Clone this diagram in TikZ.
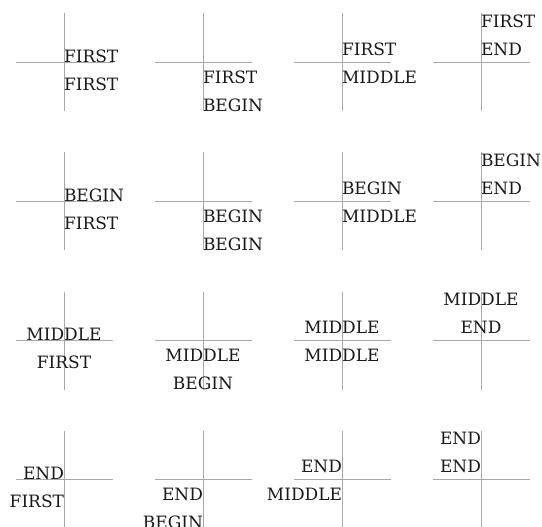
\documentclass[tikz,border=0pt]{standalone}
\usepackage{fontspec}
\setmainfont{DejaVu Serif}
\definecolor{AxisGray}{RGB}{168,168,168}
\definecolor{LabelInk}{RGB}{25,25,25}

\begin{document}
\begin{tikzpicture}[x=1pt, y=-1pt,
    axis/.style={AxisGray, line width=0.9pt},
    label/.style={inner sep=0pt, outer sep=0pt, text=LabelInk,
      font=\fontsize{17}{20}\selectfont}]
  \useasboundingbox (0,0) rectangle (542,527);
  % rows: horizontal alignment, columns: vertical alignment
  \foreach \row/\hname/\hanchor in {0/FIRST/base west, 1/BEGIN/base west,
      2/MIDDLE/base, 3/END/base east} {
    \foreach \col/\vname/\shift in {0/FIRST/0, 1/BEGIN/21, 2/MIDDLE/-7, 3/END/-35} {
      \pgfmathsetmacro{\cx}{64+139*\col}
      \pgfmathsetmacro{\cy}{62.5+139*\row}
      \coordinate (c\row\col) at (\cx,\cy);
      \draw[axis] (\cx-48,\cy) -- (\cx+49,\cy);
      \draw[axis] (\cx,\cy-49) -- (\cx,\cy+49);
      \node[label, anchor=\hanchor] (t\row\col a) at (\cx,\cy+\shift) {\hname};
      \node[label, anchor=\hanchor] (t\row\col b) at (\cx,\cy+\shift+28) {\vname};
    }
  }
\end{tikzpicture}
\end{document}
